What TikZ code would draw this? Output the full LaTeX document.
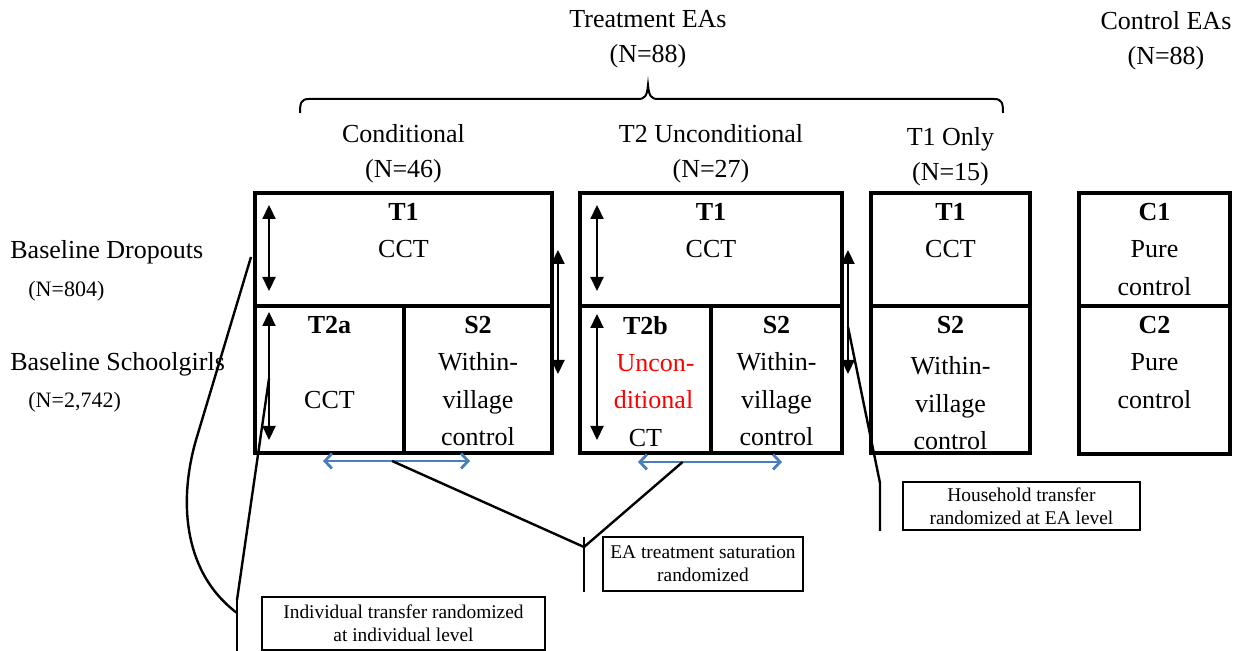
\documentclass[tikz,border=0pt]{standalone}
\usepackage{fontspec}
\setmainfont{Liberation Serif}
\definecolor{eablue}{RGB}{74,126,187}
\usetikzlibrary{arrows.meta}
\usetikzlibrary{calc}
\usetikzlibrary{positioning}
\usetikzlibrary{fit}
\tikzset{
  cell/.style={draw, line width=2pt, inner sep=0pt},
  celltext/.style={align=center, inner sep=0pt, font=\fontsize{13}{18.6}\selectfont},
  grouplabel/.style={align=center, inner sep=0pt, font=\fontsize{13}{17.5}\selectfont},
  sidelabel/.style={inner sep=0pt, font=\fontsize{13}{15}\selectfont},
  sidesmall/.style={inner sep=0pt, font=\fontsize{11}{13}\selectfont},
  note/.style={draw, line width=1.3pt, align=center, inner sep=0pt, font=\fontsize{9.7}{11.5}\selectfont},
  arrow/.style={{Triangle[length=7pt,width=6.5pt]}-{Triangle[length=7pt,width=6.5pt]}, line width=1.1pt},
  satarrow/.style={{Straight Barb[length=3.5pt,width=7.5pt]}-{Straight Barb[length=3.5pt,width=7.5pt]}, line width=1.4pt, eablue},
  callline/.style={line width=1.2pt}
}

\begin{document}
\begin{tikzpicture}[x=0.5pt, y=-0.5pt]
\useasboundingbox (0,0) rectangle (1238,651);

% treatment groups
\node[cell, fit={(255,193) (552,306)}] (condTop) {};
\node[cell, fit={(255,306) (404,453)}] (condLeft) {};
\node[cell, fit={(404,306) (552,453)}] (condRight) {};
\node[cell, fit={(580,193) (842,306)}] (uncTop) {};
\node[cell, fit={(580,306) (711,453)}] (uncLeft) {};
\node[cell, fit={(711,306) (842,453)}] (uncRight) {};
\node[cell, fit={(871,193) (1030,306)}] (onlyTop) {};
\node[cell, fit={(871,306) (1030,453)}] (onlyBottom) {};
% control group
\node[cell, fit={(1079,193) (1230,306)}] (ctrlTop) {};
\node[cell, fit={(1079,306) (1230,454)}] (ctrlBottom) {};

\node[celltext, below=6pt of condTop.north] {\textbf{T1}\\CCT};
\node[celltext, below=6pt of condLeft.north] {\textbf{T2a}\\~\\CCT};
\node[celltext, below=6pt of condRight.north] {\textbf{S2}\\Within-\\village\\control};
\node[celltext, below=6pt of uncTop.north] {\textbf{T1}\\CCT};
\node[celltext, below=6pt of uncLeft.north] {\textbf{T2b}\\\textcolor{red}{\hspace*{10pt}Uncon-}\\\textcolor{red}{\hspace*{8pt}ditional}\\CT};
\node[celltext, below=6pt of uncRight.north] {\textbf{S2}\\Within-\\village\\control};
\node[celltext, below=6pt of onlyTop.north] {\textbf{T1}\\CCT};
\node[celltext, below=6pt of onlyBottom.north] {\textbf{S2}\\[2pt]Within-\\village\\control};
\node[celltext, below=6pt of ctrlTop.north] {\textbf{C1}\\Pure\\control};
\node[celltext, below=6pt of ctrlBottom.north] {\textbf{C2}\\Pure\\control};

% headings
\node[grouplabel, above=4pt of condTop.north] (condLabel) {Conditional\\(N=46)};
\node[grouplabel, above=4pt of uncTop.north] (uncLabel) {T2 Unconditional\\(N=27)};
\node[grouplabel, above=2.5pt of onlyTop.north] (onlyLabel) {T1 Only\\(N=15)};
\coordinate (braceTip) at (648,85);
\node[grouplabel, above=8.5pt of braceTip] (treatLabel) {Treatment EAs\\(N=88)};
\node[grouplabel, anchor=north] (ctrlLabel) at (1166,11) {Control EAs\\(N=88)};

\draw[line width=1pt] (300,113) .. controls (300,103) and (301,99) .. (309,99) -- (638,99)
  .. controls (645,99) and (647,96) .. (braceTip) .. controls (649,96) and (651,99) .. (658,99)
  -- (994,99) .. controls (1002,99) and (1003,103) .. (1003,113);

% sample rows
\node[sidelabel, anchor=base west] (dropLabel) at (10,259) {Baseline Dropouts};
\node[sidesmall, anchor=base west] (dropN) at (28,297) {(N=804)};
\node[sidelabel, anchor=base west] (girlLabel) at (10,371) {Baseline Schoolgirls};
\node[sidesmall, anchor=base west] (girlN) at (28,408) {(N=2,742)};

% randomization arrows
\draw[arrow] (269,205) -- (269,291);
\draw[arrow] (269,312) -- node[coordinate, pos=0.52] (t2aPoint) {} (269,440);
\draw[arrow] (558,250) -- (558,374);
\draw[arrow] (597,205) -- (597,291);
\draw[arrow] (597,314) -- (597,440);
\draw[arrow] (848,250) -- node[coordinate, pos=0.62] (hhPoint) {} (848,374);

\draw[satarrow] (323,461) -- node[coordinate, pos=0.47] (condSat) {} (470,461);
\draw[satarrow] (638,462) -- node[coordinate, pos=0.31] (uncSat) {} (782,462);

% notes
\node[note, minimum width=100pt, minimum height=27pt] (satNote) at (703,564) {EA treatment saturation\\randomized};
\node[note, minimum width=118.5pt, minimum height=24pt] (hhNote) at (1021.5,506) {Household transfer\\randomized at EA level};
\node[note, minimum width=141.5pt, minimum height=26.5pt] (indNote) at (403.5,623.5) {Individual transfer randomized\\at individual level};

\coordinate (satBarTop) at (584,537);
\coordinate (satJoin) at (584,547);
\coordinate (satBarBot) at (584,592);
\coordinate (hhBarTop) at (880,483);
\coordinate (hhBarBot) at (880,531);
\coordinate (indBarTop) at (237,597);
\coordinate (indJoin) at (237,600);
\coordinate (indCurve) at (237,613);
\coordinate (indBarBot) at (237,651);
\coordinate (dropPoint) at (251,257);

\draw[callline] (satBarTop) -- (satBarBot);
\draw[callline] (condSat) -- (satJoin) -- (uncSat);
\draw[callline] (hhPoint) -- (hhBarTop) -- (hhBarBot);
\draw[callline] (indBarTop) -- (indBarBot);
\draw[callline] (t2aPoint) -- (indJoin);
\draw[callline] (dropPoint) -- (196,440) .. controls (180,495) and (180,570) .. (indCurve);
\end{tikzpicture}
\end{document}
